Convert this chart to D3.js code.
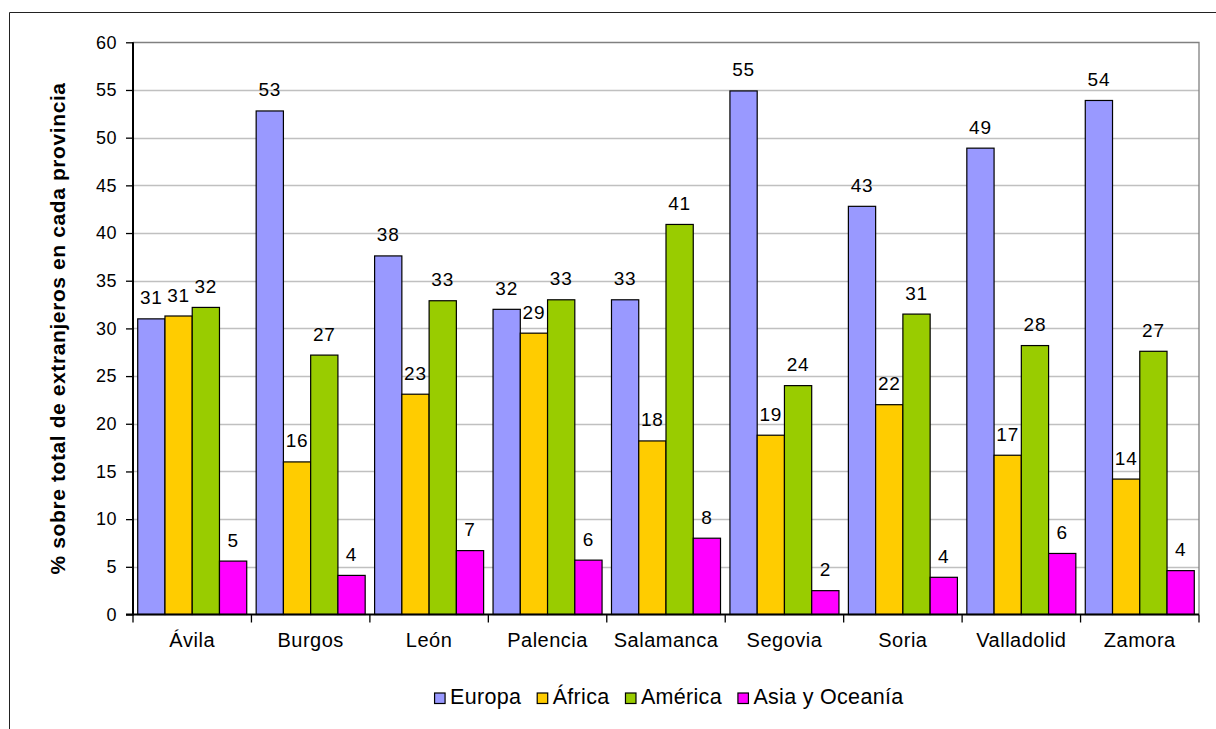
<!DOCTYPE html>
<html><head><meta charset="utf-8">
<script src="https://cdn.jsdelivr.net/npm/d3@7"></script>
<style>body{margin:0;background:#fff}svg{display:block}text{font-family:"Liberation Sans",Arial,sans-serif;fill:#000}</style>
</head><body><svg id="c" width="1216" height="729"></svg>
<script>
const categories = ["Ávila","Burgos","León","Palencia","Salamanca","Segovia","Soria","Valladolid","Zamora"];
const seriesNames = ["Europa","África","América","Asia y Oceanía"];
const europa  = [31.0, 52.8, 37.6, 32.0, 33.0, 54.9, 42.8, 48.9, 53.9];
const africa  = [31.3, 16.0, 23.1, 29.5, 18.2, 18.8, 22.0, 16.7, 14.2];
const america = [32.2, 27.2, 32.9, 33.0, 40.9, 24.0, 31.5, 28.2, 27.6];
const asia    = [5.6, 4.1, 6.7, 5.7, 8.0, 2.5, 3.9, 6.4, 4.6];
const europaLabels  = ["31","53","38","32","33","55","43","49","54"];
const africaLabels  = ["31","16","23","29","18","19","22","17","14"];
const americaLabels = ["32","27","33","33","41","24","31","28","27"];
const asiaLabels    = ["5","4","7","6","8","2","4","6","4"];
const yTicks = [0,5,10,15,20,25,30,35,40,45,50,55,60];
const colors = ["#9999FF","#FFCC00","#99CC00","#FF00FF"];
const yTitle = "% sobre  total de extranjeros en cada provincia";

const values = [europa, africa, america, asia];
const labels = [europaLabels, africaLabels, americaLabels, asiaLabels];

const svg = d3.select("#c");
const L = 133, R = 1199, T = 42.3, B = 614.5;

// outer frame
svg.append("path").attr("d", `M9.5,735V12.5H1230`).attr("fill","none").attr("stroke","#222").attr("stroke-width",1);

const x0 = d3.scaleBand().domain(categories).range([L, R]).paddingInner(0).paddingOuter(0);
const x1 = d3.scaleBand().domain(seriesNames).range([0, x0.bandwidth()]).paddingInner(0).paddingOuter(0.173);
const y = d3.scaleLinear().domain([0, 60]).range([B, T]);

// gridlines
svg.append("g").selectAll("line").data(yTicks.filter(d => d > 0 && d < 60)).join("line")
  .attr("x1", L).attr("x2", R).attr("y1", d => Math.round(y(d)) + 0.5).attr("y2", d => Math.round(y(d)) + 0.5)
  .attr("stroke", "#c0c0c0").attr("stroke-width", 1.3);

// plot border top/right
svg.append("path").attr("d", `M${L},${Math.round(T)+0.5}H${R}V${B}`).attr("fill","none").attr("stroke","#808080").attr("stroke-width",1.3);

// bars
const g = svg.append("g");
seriesNames.forEach((s, si) => {
  g.selectAll(null).data(categories).join("rect")
    .attr("x", c => x0(c) + x1(s))
    .attr("y", (c, i) => y(values[si][i]))
    .attr("width", x1.bandwidth())
    .attr("height", (c, i) => B - y(values[si][i]))
    .attr("fill", colors[si]).attr("stroke", "#000").attr("stroke-width", 1.2);
  g.selectAll(null).data(categories).join("text")
    .attr("x", c => x0(c) + x1(s) + x1.bandwidth() / 2)
    .attr("y", (c, i) => y(values[si][i]) - 14.5)
    .attr("text-anchor", "middle").attr("font-size", 19).attr("letter-spacing", 0.8)
    .text((c, i) => labels[si][i]);
});

// y axis
const yAxis = d3.axisLeft(y).tickValues(yTicks).tickSize(7).tickPadding(9).tickFormat(d3.format("d"));
const ya = svg.append("g").attr("transform", `translate(${L},0)`).call(yAxis);
ya.select(".domain").attr("stroke", "#000").attr("stroke-width", 2).attr("d", `M-7,${B}H0V${T}`);
ya.selectAll(".tick line").attr("stroke", "#000").attr("stroke-width", 1.3);
ya.selectAll(".tick text").attr("font-size", 18).attr("letter-spacing", 0.5).attr("font-family", '"Liberation Sans",Arial,sans-serif').attr("fill","#000");

// x axis
const xa = svg.append("g").attr("transform", `translate(0,${B})`);
xa.append("line").attr("x1", L).attr("x2", R).attr("y1", 0).attr("y2", 0).attr("stroke", "#000").attr("stroke-width", 2);
xa.selectAll("line.tk").data(categories.concat(["_end"])).join("line").attr("class","tk")
  .attr("x1", (c, i) => i < categories.length ? x0(c) : R).attr("x2", (c, i) => i < categories.length ? x0(c) : R)
  .attr("y1", 0).attr("y2", 8).attr("stroke", "#000").attr("stroke-width", 1.3);
xa.selectAll("text").data(categories).join("text")
  .attr("x", c => x0(c) + x0.bandwidth() / 2).attr("y", 32)
  .attr("text-anchor", "middle").attr("font-size", 20).attr("letter-spacing", 0.5).text(c => c);

// y title
svg.append("text").attr("transform", `translate(65,${(T + B) / 2}) rotate(-90)`)
  .attr("text-anchor", "middle").attr("font-size", 21).attr("letter-spacing", 0.6).attr("font-weight", "bold").text(yTitle);

// legend
const lg = svg.append("g");
let cx = 0;
const items = [];
seriesNames.forEach((s, i) => {
  const it = lg.append("g");
  it.append("rect").attr("x", 0).attr("y", -11).attr("width", 10.5).attr("height", 10.5)
    .attr("fill", colors[i]).attr("stroke", "#000").attr("stroke-width", 1.2);
  const t = it.append("text").attr("x", 15.5).attr("y", 0).attr("font-size", 21.5).attr("letter-spacing", 0.3).text(s);
  const w = 15.5 + t.node().getComputedTextLength();
  items.push([it, cx]);
  cx += w + 16;
});
const total = cx - 16;
const startX = 669 - total / 2;
items.forEach(([it, ox]) => it.attr("transform", `translate(${startX + ox},704)`));
</script></body></html>
